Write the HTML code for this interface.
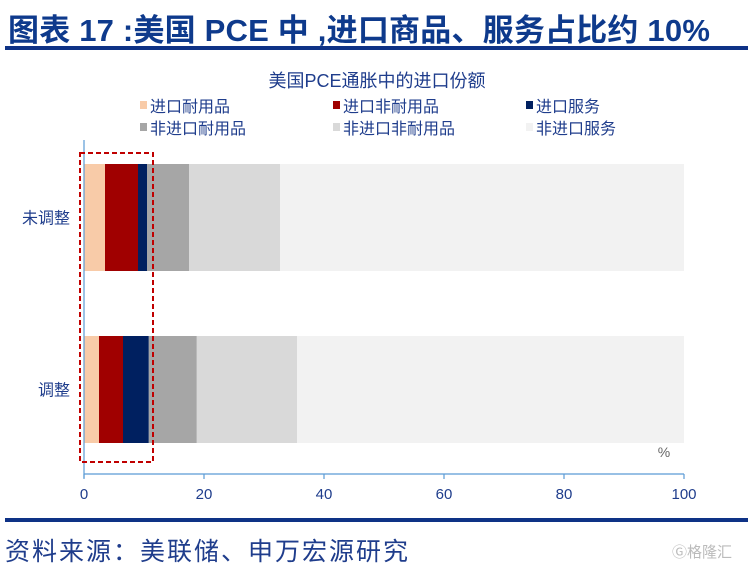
<!DOCTYPE html>
<html><head><meta charset="utf-8">
<style>
body{margin:0;width:754px;height:570px;background:#fff;overflow:hidden;position:relative;font-family:"Liberation Sans","Noto Sans CJK SC",sans-serif;}
.title{position:absolute;left:8px;top:5px;font-size:31px;font-weight:bold;color:#0e3a8c;letter-spacing:0.2px;white-space:nowrap;}
.rule{position:absolute;left:5px;width:743px;height:4px;background:#0e3286;}
.src{position:absolute;left:5px;top:532px;font-size:25px;color:#1f3d8c;letter-spacing:2px;white-space:nowrap;}
.wm{position:absolute;left:672px;top:541px;font-size:15px;color:#bbb;white-space:nowrap;}
svg{position:absolute;left:0;top:0;}
</style></head><body>
<div class="title">图表 17 :美国 PCE 中 ,进口商品、服务占比约 10%</div>
<div class="rule" style="top:46px"></div>
<div class="rule" style="top:518px"></div>
<div class="src">资料来源：美联储、申万宏源研究</div>
<div class="wm">Ⓖ格隆汇</div>
<svg id="chart" width="754" height="570"></svg>
<script>
const categories=["未调整","调整"];
const seriesNames=["进口耐用品","进口非耐用品","进口服务","非进口耐用品","非进口非耐用品","非进口服务"];
const seriesColors=["#f8cba8","#a00000","#002060","#a6a6a6","#d9d9d9","#f2f2f2"];
const s0=[3.5,2.5];
const s1=[5.5,4.0];
const s2=[1.5,4.3];
const s3=[7.0,8.0];
const s4=[15.2,16.7];
const s5=[67.3,64.5];
const xTicks=[0,20,40,60,80,100];
const series=[s0,s1,s2,s3,s4,s5];
const svg=document.getElementById('chart');
const NS='http://www.w3.org/2000/svg';
const x0=84,x1=684,xMax=100;
const xs=v=>x0+(v/xMax)*(x1-x0);
const bandTop=[164,336],bandH=107;
function mk(t,a){const e=document.createElementNS(NS,t);for(const k in a)e.setAttribute(k,a[k]);svg.appendChild(e);return e;}
function tx(x,y,s,size,fill,anchor){const e=mk('text',{x:x,y:y,'font-size':size,fill:fill,'text-anchor':anchor||'start','font-family':'"Liberation Sans","Noto Sans CJK SC",sans-serif'});e.textContent=s;return e;}
let t=tx(377,87,"美国PCE通胀中的进口份额",18,"#1f3d8c","middle");


const lx=[140,333,526],ly=[112,134];
seriesNames.forEach((n,i)=>{
  const g=document.createElementNS(NS,'g');svg.appendChild(g);
  
  
  const x=lx[i%3],y=ly[Math.floor(i/3)];
  const r=document.createElementNS(NS,'rect');r.setAttribute('x',x);r.setAttribute('y',y-11);r.setAttribute('width',7);r.setAttribute('height',8);r.setAttribute('fill',seriesColors[i]);g.appendChild(r);
  const tt=document.createElementNS(NS,'text');tt.setAttribute('x',x+10);tt.setAttribute('y',y);tt.setAttribute('font-size',16);tt.setAttribute('fill','#1f3d8c');tt.setAttribute('font-family','"Liberation Sans","Noto Sans CJK SC",sans-serif');tt.textContent=n;g.appendChild(tt);
});
categories.forEach((c,ci)=>{
  let acc=0;
  series.forEach((s,si)=>{
    const r=mk('rect',{x:xs(acc),y:bandTop[ci],width:xs(acc+s[ci])-xs(acc),height:bandH,fill:seriesColors[si]});
    
    
    acc+=s[ci];
  });
  const l=tx(70,bandTop[ci]+bandH/2+6,c,16,"#1f3d8c","end");
  
  
});
let ax=mk('line',{x1:x0,y1:140,x2:x0,y2:478,stroke:'#5b9bd5','stroke-width':1.2});


let bx=mk('line',{x1:x0,y1:474,x2:x1,y2:474,stroke:'#5b9bd5','stroke-width':1.2});


xTicks.forEach(v=>{
  const tk=mk('line',{x1:xs(v),y1:474,x2:xs(v),y2:479,stroke:'#5b9bd5','stroke-width':1.2});
  
  
  const l=tx(xs(v),499,String(v),15,"#1f3d8c","middle");
  
  
});
let pc=tx(664,457,"%",14,"#666","middle");


let db=mk('rect',{x:80,y:153,width:73,height:309,fill:'none',stroke:'#c00000','stroke-width':2,'stroke-dasharray':'5,3'});


</script>
</body></html>
